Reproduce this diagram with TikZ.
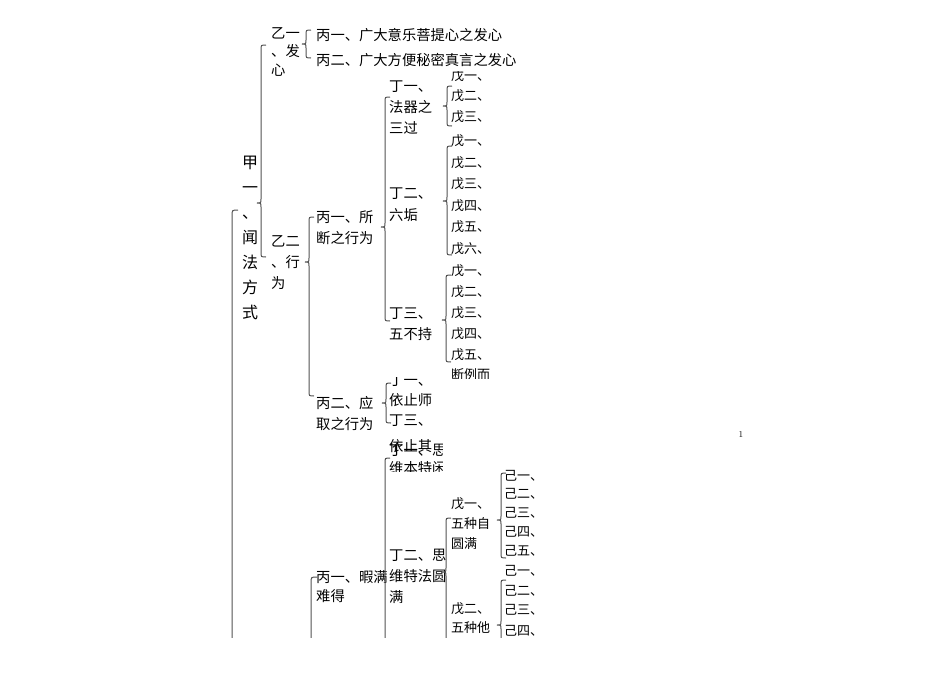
\documentclass[tikz,border=0pt]{standalone}
\usepackage{fontspec}
\newfontfamily\cjk{Noto Sans CJK SC}
\newcommand\mybrace[4]{% x, top, tip, bottom
  \draw[br] (#1+5,#2) .. controls (#1,#2) .. (#1,#2+5) -- (#1,#3-4)
    .. controls (#1,#3) .. (#1-4,#3) .. controls (#1,#3) .. (#1,#3+4)
    -- (#1,#4-5) .. controls (#1,#4) .. (#1+5,#4);}
\newcommand\mybraceopen[3]{% x, top, tip (runs off the bottom)
  \draw[br] (#1+5,#2) .. controls (#1,#2) .. (#1,#2+5) -- (#1,#3-4)
    .. controls (#1,#3) .. (#1-4,#3) .. controls (#1,#3) .. (#1,#3+4)
    -- (#1,660);}
\begin{document}
\begin{tikzpicture}[x=1pt,y=-1pt,
  t/.style={anchor=base west,inner sep=0pt,font=\cjk\fontsize{14.3}{14.3}\selectfont},
  ts/.style={anchor=base west,inner sep=0pt,font=\cjk\fontsize{13}{13}\selectfont},
  tj/.style={anchor=base,inner sep=0pt,font=\cjk\fontsize{16}{16}\selectfont},
  br/.style={draw=black!68,line width=1pt}]
\useasboundingbox (0,0) rectangle (950,672);
\begin{scope}
\clip (0,0) rectangle (950,637);
% 甲一
\foreach \c/\yy [count=\i] in {甲/162,一/187,、/212,闻/237,法/262,方/287,式/312}
  \node[tj] (j\i) at (250,\yy+6) {\c};
% outer brace left of 甲一
\draw[br] (238,210) .. controls (232,210) .. (232,216) -- (232,660);
% brace of 甲一's children
\mybrace{261}{45}{203}{257}
% 乙一、发心
\node[t] (ya1) at (271,38) {乙一};
\node[t] (ya2) at (271,56) {、发};
\node[t] (ya3) at (271,75) {心};
\mybrace{306}{30}{44}{58}
\node[t] (ba1) at (316,40) {丙一、广大意乐菩提心之发心};
\node[t] (ba2) at (316,65) {丙二、广大方便秘密真言之发心};
% 乙二、行为
\node[t] (yb1) at (271,246) {乙二};
\node[t] (yb2) at (271,267) {、行};
\node[t] (yb3) at (271,288) {为};
\mybrace{309}{217}{262}{396}
% 丙一、所断之行为
\node[t] (bb1) at (316,222) {丙一、所};
\node[t] (bb2) at (316,243) {断之行为};
\mybrace{385}{97}{227}{321}
% 丁一
\node[t] (da1) at (389,91) {丁一、};
\node[t] (da2) at (389,112) {法器之};
\node[t] (da3) at (389,133) {三过};
\mybrace{447}{86}{106}{126}
% 丁二
\node[t] (db1) at (389,198) {丁二、};
\node[t] (db2) at (389,220) {六垢};
\mybrace{447}{146}{201}{255}
% 丁三
\node[t] (dc1) at (389,318) {丁三、};
\node[t] (dc2) at (389,339) {五不持};
\mybrace{446}{275}{320}{362}
% clipped 戊 column
\begin{scope}
\clip (450,71) rectangle (495,378);
\foreach \c/\yy [count=\i] in {戊一、/75,戊二、/95,戊三、/116,戊一、/140,戊二、/162,戊三、/183,戊四、/205,戊五、/226,戊六、/248,戊一、/270,戊二、/291,戊三、/312,戊四、/333,戊五、/354,断例而/374}
  \node[ts] (w\i) at (451,\yy+5) {\c};
\end{scope}
% 丙二、应取之行为
\node[t] (bc1) at (316,408) {丙二、应};
\node[t] (bc2) at (316,429) {取之行为};
\mybrace{386}{383}{403}{423}
\begin{scope}
\clip (388,377) rectangle (442,471);
\node[t] (p1) at (389,385) {丁一、};
\node[t] (p2) at (389,405) {依止师};
\node[t] (p3) at (389,425) {丁三、};
\node[t] (p4) at (389,451) {依止其};
\node[t] (p5) at (389,455) {丁一、思};
\node[t] (p6) at (389,473) {维本特闲};
\end{scope}
% lower 乙 brace
\draw[br] (317,577) .. controls (311,577) .. (311,583) -- (311,660);
% 丙一、暇满难得
\node[t] (bd1) at (316,582) {丙一、暇满};
\node[t] (bd2) at (316,601) {难得};
\mybraceopen{385}{458}{579}
% 丁二、思维特法圆满
\node[t] (dd1) at (389,560) {丁二、思};
\node[t] (dd2) at (389,581) {维特法圆};
\node[t] (dd3) at (389,602) {满};
\mybraceopen{446}{518}{572}
% 戊一
\node[ts] (wa1) at (451,508) {戊一、};
\node[ts] (wa2) at (451,528) {五种自};
\node[ts] (wa3) at (451,548) {圆满};
\mybrace{501}{473}{520}{558}
% 戊二
\node[ts] (wb1) at (451,613) {戊二、};
\node[ts] (wb2) at (451,632) {五种他};
\mybraceopen{501}{580}{625}
% clipped 己 column
\begin{scope}
\clip (503,469) rectangle (546,640);
\foreach \c/\yy [count=\i] in {己一、/475,己二、/493,己三、/512,己四、/531,己五、/550,己一、/570,己二、/590,己三、/609,己四、/630}
  \node[ts] (z\i) at (504,\yy+5) {\c};
\end{scope}
\end{scope}
\node[inner sep=0pt,font=\fontsize{9}{9}\selectfont] (pg) at (741,434) {1};
\end{tikzpicture}
\end{document}
